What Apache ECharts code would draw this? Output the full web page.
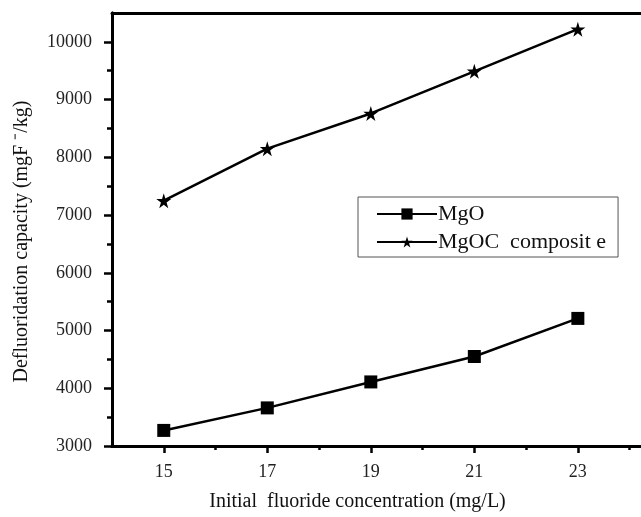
<!DOCTYPE html>
<html>
<head>
<meta charset="utf-8">
<script src="https://cdn.jsdelivr.net/npm/echarts@6/dist/echarts.min.js"></script>
<style>
    html, body { margin: 0; padding: 0; background: #fff; }
    #main { width: 641px; height: 517px; }
</style>
</head>
<body>
<div id="main"></div>
<script>
    // values
    var concentration = [15, 17, 19, 21, 23];
    var mgo = [3270, 3660, 4110, 4550, 5210];
    var mgoc = [7250, 8150, 8760, 9490, 10220];
    var xMajor = [15, 17, 19, 21, 23];
    var xMinor = [16, 18, 20, 22, 24];
    var yMajor = [3000, 4000, 5000, 6000, 7000, 8000, 9000, 10000];
    var yMinor = [3500, 4500, 5500, 6500, 7500, 8500, 9500];

    var font = 'Liberation Serif';
    var star = 'path://M50,0 L61,35 L98,35 L68,57 L79,91 L50,70 L21,91 L32,57 L2,35 L39,35 Z';

    function pairs(xs, ys) {
        return xs.map(function (x, i) { return [x, ys[i]]; });
    }
    function plain(v) { return String(v); }

    var chart = echarts.init(document.getElementById('main'));

    // the figure is cropped on the right, so x runs a little past 24
    var baseX = {
        type: 'value', min: 14, max: 24.22,
        axisLine: { lineStyle: { color: '#000', width: 3 } },
        splitLine: { show: false }
    };
    var baseY = {
        type: 'value', min: 3000, max: 10500,
        axisLine: { lineStyle: { color: '#000', width: 3 } },
        splitLine: { show: false }
    };

    var option = {
        animation: false,
        backgroundColor: '#fff',
        grid: { left: 112, top: 13, right: 0, bottom: 67 },
        legend: {
            orient: 'vertical',
            left: 358, top: 197,
            padding: [6, 12, 4, 18],
            borderColor: '#555', borderWidth: 1,
            itemWidth: 60, itemHeight: 14, itemGap: 6,
            textStyle: { fontFamily: font, fontSize: 22, lineHeight: 22, color: '#111', padding: [0, 0, 0, -4] },
            data: ['MgO', 'MgOC  composit e']
        },
        xAxis: [
            Object.assign({}, baseX, {
                name: 'Initial  fluoride concentration (mg/L)',
                nameLocation: 'middle', nameGap: 46,
                nameTextStyle: { fontFamily: font, fontSize: 20, color: '#111', padding: [0, 38, 0, 0] },
                axisTick: { customValues: xMajor, length: 7, lineStyle: { color: '#000', width: 2.5 } },
                axisLabel: { customValues: xMajor, formatter: plain, margin: 17, fontFamily: font, fontSize: 18, color: '#222' }
            }),
            Object.assign({}, baseX, {
                position: 'bottom',
                axisTick: { customValues: xMinor, length: 4, lineStyle: { color: '#000', width: 2.5 } },
                axisLabel: { show: false }
            }),
            Object.assign({}, baseX, {
                position: 'top',
                axisTick: { show: false },
                axisLabel: { show: false }
            })
        ],
        yAxis: [
            Object.assign({}, baseY, {
                name: 'Defluoridation capacity (mgF \u207b/kg)',
                nameLocation: 'middle', nameGap: 80,
                nameTextStyle: { fontFamily: font, fontSize: 20, color: '#111', padding: [0, 24, 0, 0] },
                axisTick: { customValues: yMajor, length: 8, lineStyle: { color: '#000', width: 2.5 } },
                axisLabel: { customValues: yMajor, formatter: plain, margin: 20, fontFamily: font, fontSize: 18, color: '#222' }
            }),
            Object.assign({}, baseY, {
                position: 'left',
                axisTick: { customValues: yMinor, length: 5, lineStyle: { color: '#000', width: 2.5 } },
                axisLabel: { show: false }
            })
        ],
        series: [
            {
                name: 'MgO',
                type: 'line',
                data: pairs(concentration, mgo),
                symbol: 'rect', symbolSize: 13,
                lineStyle: { color: '#000', width: 2.5 },
                itemStyle: { color: '#000' }
            },
            {
                name: 'MgOC  composit e',
                type: 'line',
                data: pairs(concentration, mgoc),
                symbol: star, symbolSize: 15,
                lineStyle: { color: '#000', width: 2.5 },
                itemStyle: { color: '#000' }
            }
        ]
    };
    chart.setOption(option);
</script>
</body>
</html>
